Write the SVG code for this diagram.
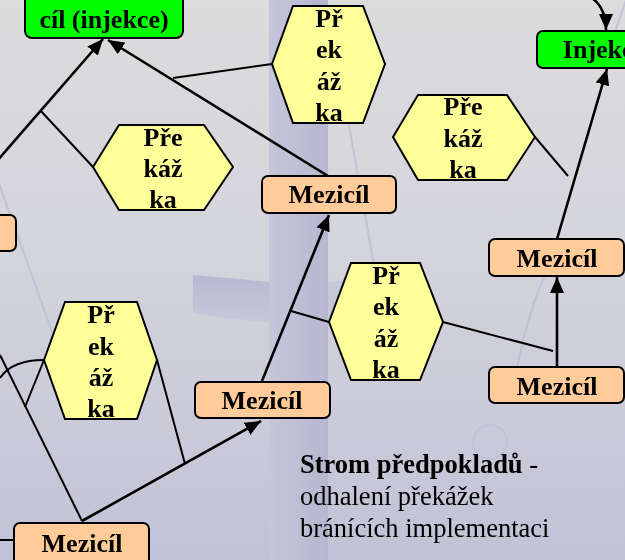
<svg xmlns="http://www.w3.org/2000/svg" width="625" height="560" viewBox="0 0 625 560">
<defs>
<linearGradient id="bg" x1="0" y1="0" x2="0" y2="1">
<stop offset="0" stop-color="#dcdcdd"/>
<stop offset="0.45" stop-color="#d4d4dc"/>
<stop offset="1" stop-color="#c2c2d7"/>
</linearGradient>
<linearGradient id="band" x1="0" y1="0" x2="1" y2="0">
<stop offset="0" stop-color="#c6c6da"/>
<stop offset="1" stop-color="#b6b6cf"/>
</linearGradient>
<linearGradient id="hband" x1="0" y1="0" x2="0" y2="1">
<stop offset="0" stop-color="#b8b8d2"/>
<stop offset="1" stop-color="#c8c8da"/>
</linearGradient>
<marker id="ah" viewBox="0 0 16 14" refX="16" refY="7" markerWidth="16" markerHeight="14" markerUnits="userSpaceOnUse" orient="auto">
<path d="M0,0 L16,7 L0,14 z" fill="#000"/>
</marker>
<style>
.t{font-family:"Liberation Serif","Times New Roman",serif;font-weight:bold;font-size:26px;fill:#000;text-anchor:middle}
.box{fill:#ffcc99;stroke:#000;stroke-width:2}
.goal{fill:#00ff00;stroke:#000;stroke-width:2}
.hex{fill:#ffff99;stroke:#000;stroke-width:2}
.arr{stroke:#000;stroke-width:2.6;fill:none;marker-end:url(#ah)}
.br{stroke:#000;stroke-width:2;fill:none}
.note{font-family:"Liberation Serif","Times New Roman",serif;font-size:26.5px;fill:#000}
</style>
</defs>
<!-- background -->
<rect x="0" y="0" width="625" height="560" fill="url(#bg)"/>
<path d="M193 275 Q240 279 270 282 L270 322 Q230 320 193 313 Z" fill="url(#hband)"/>
<rect x="269" y="0" width="59" height="560" fill="url(#band)"/>
<path d="M328 282 L345 280 L345 322 L328 322 Z" fill="#c0c0d8" opacity="0.6"/>
<g stroke="#b4b4d6" stroke-width="2" fill="none" opacity="0.6">
<path d="M-4 175 L55 340"/>
<path d="M348 120 L374 265"/>
<path d="M626 0 L612 40"/>
<path d="M545 275 Q525 320 515 380"/>
<circle cx="490" cy="442" r="17" opacity="0.6"/>
</g>

<!-- connectors -->
<g id="connectors">
<path class="arr" d="M-10 169 L103 39"/>
<path class="br" d="M40 110 L93 167"/>
<path class="arr" d="M328 176 L108 40"/>
<path class="br" d="M173 78 L272 64"/>
<path class="arr" d="M262 381 L329 215"/>
<path class="br" d="M291 311 L329 322"/>
<path class="arr" d="M82 521 L261 421"/>
<path class="br" d="M185 464 L157 360"/>
<path class="br" d="M82 521 L0 355"/>
<path class="br" d="M25 407 L44 360"/>
<path class="br" d="M0 378 Q12 360 44 360"/>
<path class="br" d="M0 540 L14 540"/>
<path class="br" d="M443 322 L553 351"/>
<path class="arr" d="M557 367 L557 277"/>
<path class="arr" d="M557 239 L607 69"/>
<path class="br" d="M535 137 L568 176"/>
<path class="arr" d="M592 -2 Q606 8 606 30"/>
</g>

<!-- nodes -->
<g id="goal-main">
<rect class="goal" x="25" y="-12" width="158" height="50" rx="7"/>
<text class="t" x="104" y="28">cíl (injekce)</text>
</g>
<g id="goal-injekce">
<rect class="goal" x="537" y="31" width="135" height="37" rx="6"/>
<text class="t" x="604" y="58">Injekce</text>
</g>
<g id="mezicil-left">
<rect class="box" x="-40" y="215" width="56" height="36" rx="6"/>
</g>
<g id="mezicil-1">
<rect class="box" x="262" y="176" width="134" height="37" rx="6"/>
<text class="t" x="329" y="203">Mezicíl</text>
</g>
<g id="mezicil-2">
<rect class="box" x="14" y="523" width="135" height="45" rx="6"/>
<text class="t" x="82" y="552">Mezicíl</text>
</g>
<g id="mezicil-3">
<rect class="box" x="195" y="382" width="135" height="36" rx="6"/>
<text class="t" x="262" y="409">Mezicíl</text>
</g>
<g id="mezicil-4">
<rect class="box" x="489" y="239" width="135" height="37" rx="6"/>
<text class="t" x="557" y="267">Mezicíl</text>
</g>
<g id="mezicil-5">
<rect class="box" x="489" y="367" width="135" height="36" rx="6"/>
<text class="t" x="557" y="395">Mezicíl</text>
</g>
<g id="prekazka-1">
<polygon class="hex" points="93,167 119,125 204,125 233,167 204,210 119,210"/>
<text class="t" x="163" y="146">Pře</text>
<text class="t" x="163" y="177">káž</text>
<text class="t" x="163" y="208">ka</text>
</g>
<g id="prekazka-2">
<polygon class="hex" points="272,64 293,6 363,6 385,64 363,123 293,123"/>
<text class="t" x="329" y="27">Př</text>
<text class="t" x="329" y="58">ek</text>
<text class="t" x="329" y="90">áž</text>
<text class="t" x="329" y="121">ka</text>
</g>
<g id="prekazka-3">
<polygon class="hex" points="329,322 351,263 420,263 443,322 420,380 351,380"/>
<text class="t" x="386" y="284">Př</text>
<text class="t" x="386" y="315">ek</text>
<text class="t" x="386" y="347">áž</text>
<text class="t" x="386" y="378">ka</text>
</g>
<g id="prekazka-4">
<polygon class="hex" points="393,137 418,95 507,95 535,137 507,180 418,180"/>
<text class="t" x="463" y="115">Pře</text>
<text class="t" x="463" y="147">káž</text>
<text class="t" x="463" y="178">ka</text>
</g>
<g id="prekazka-5">
<polygon class="hex" points="44,360 65,302 137,302 157,360 137,419 65,419"/>
<text class="t" x="101" y="323">Př</text>
<text class="t" x="101" y="355">ek</text>
<text class="t" x="101" y="386">áž</text>
<text class="t" x="101" y="417">ka</text>
</g>

<!-- caption -->
<text class="note" x="300" y="473"><tspan font-weight="bold">Strom předpokladů</tspan> -</text>
<text class="note" x="300" y="505">odhalení překážek</text>
<text class="note" x="300" y="537">bránících implementaci</text>
</svg>
